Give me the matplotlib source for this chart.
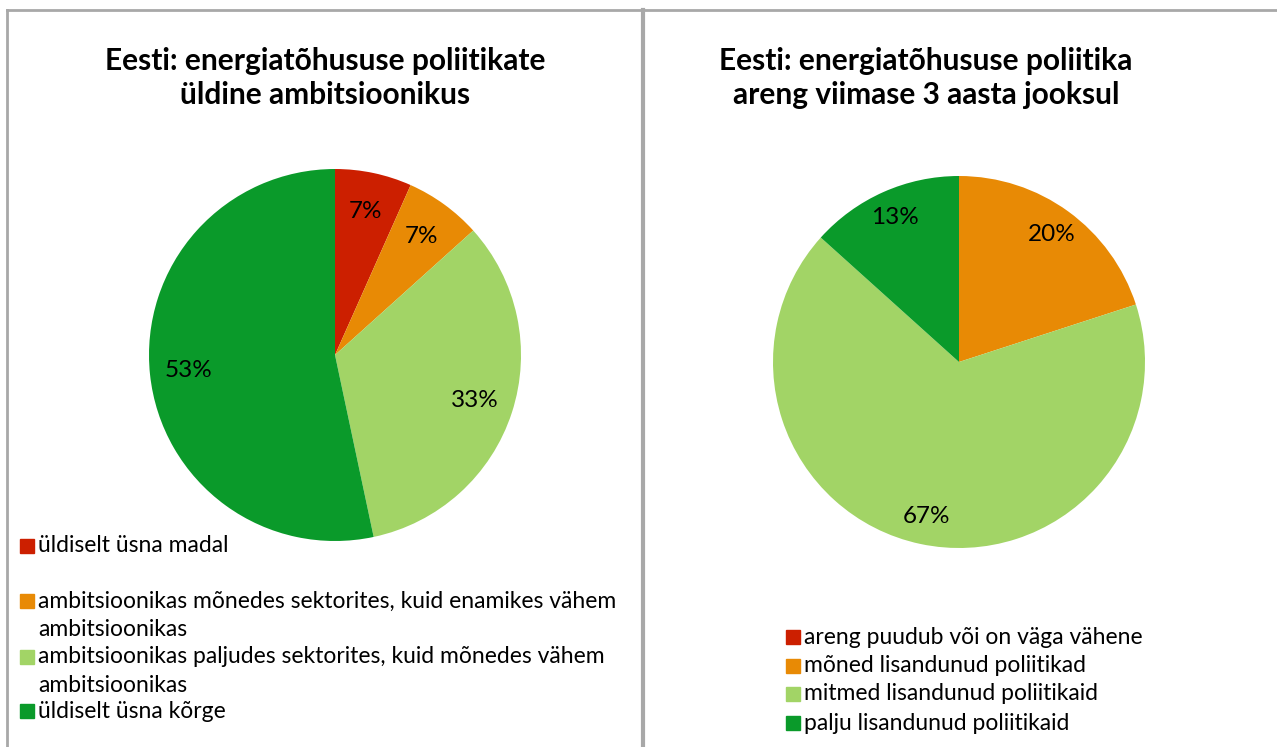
import matplotlib.pyplot as plt
from matplotlib.patches import Rectangle
from matplotlib.lines import Line2D

W, H = 1277, 747

# data
colors = ["#CC1F00", "#E88A05", "#A2D466", "#0A9A2A"]

title1 = "Eesti: energiatõhususe poliitikate\nüldine ambitsioonikus"
labels1 = ["üldiselt üsna madal",
           "ambitsioonikas mõnedes sektorites, kuid enamikes vähem\nambitsioonikas",
           "ambitsioonikas paljudes sektorites, kuid mõnedes vähem\nambitsioonikas",
           "üldiselt üsna kõrge"]
counts1 = [1, 1, 5, 8]

title2 = "Eesti: energiatõhususe poliitika\nareng viimase 3 aasta jooksul"
labels2 = ["areng puudub või on väga vähene",
           "mõned lisandunud poliitikad",
           "mitmed lisandunud poliitikaid",
           "palju lisandunud poliitikaid"]
counts2 = [0, 3, 10, 2]

plt.rcParams['font.family'] = ['Lato', 'DejaVu Sans']


def fx(x):
    return x / W


def fy(y):
    return 1 - y / H


def pct(p):
    return "%d%%" % round(p) if p > 0 else ""


fig = plt.figure(figsize=(W / 100, H / 100), dpi=100)

# panel borders
grey = "#A8A8A8"
fig.add_artist(Line2D([fx(7), 1], [fy(10), fy(10)], color=grey, lw=2))
fig.add_artist(Line2D([fx(7), fx(7)], [fy(10), 0], color=grey, lw=2))
fig.add_artist(Line2D([fx(643), fx(643)], [fy(10), 0], color=grey, lw=3))


def draw_pie(cx, cy, r, counts, pd):
    ax = fig.add_axes([fx(cx - r), fy(cy + r), fx(2 * r), 2 * r / H])
    wedges, texts, autotexts = ax.pie(counts, colors=colors, startangle=90,
                                      counterclock=False, autopct=pct,
                                      pctdistance=pd,
                                      textprops=dict(fontsize=17.5, color="black"))
    ax.set_xlim(-1, 1)
    ax.set_ylim(-1, 1)
    ax.set_aspect("equal")
    ax.axis("off")
    return ax


draw_pie(335, 355, 186, counts1, 0.79)
draw_pie(959, 362, 186, counts2, 0.85)

fig.text(fx(325), fy(78), title1, ha="center", va="center", fontsize=21.5,
         fontweight="bold", linespacing=1.27)
fig.text(fx(926), fy(78), title2, ha="center", va="center", fontsize=21.5,
         fontweight="bold", linespacing=1.27)

# legends
def draw_legend(x, ys, labels):
    for y, lab, c in zip(ys, labels, colors):
        n = lab.count("\n")
        top = y - n * 14.5
        fig.add_artist(Rectangle((fx(x), fy(top + 7)), fx(14), 14 / H,
                                 color=c, transform=fig.transFigure))
        fig.text(fx(x + 18), fy(y), lab, ha="left", va="center", fontsize=16.5,
                 linespacing=1.42, color="black")


draw_legend(20, [546, 615.5, 671, 711], labels1)
draw_legend(786, [637, 666, 694, 723], labels2)

fig.savefig("out.png", dpi=100)
